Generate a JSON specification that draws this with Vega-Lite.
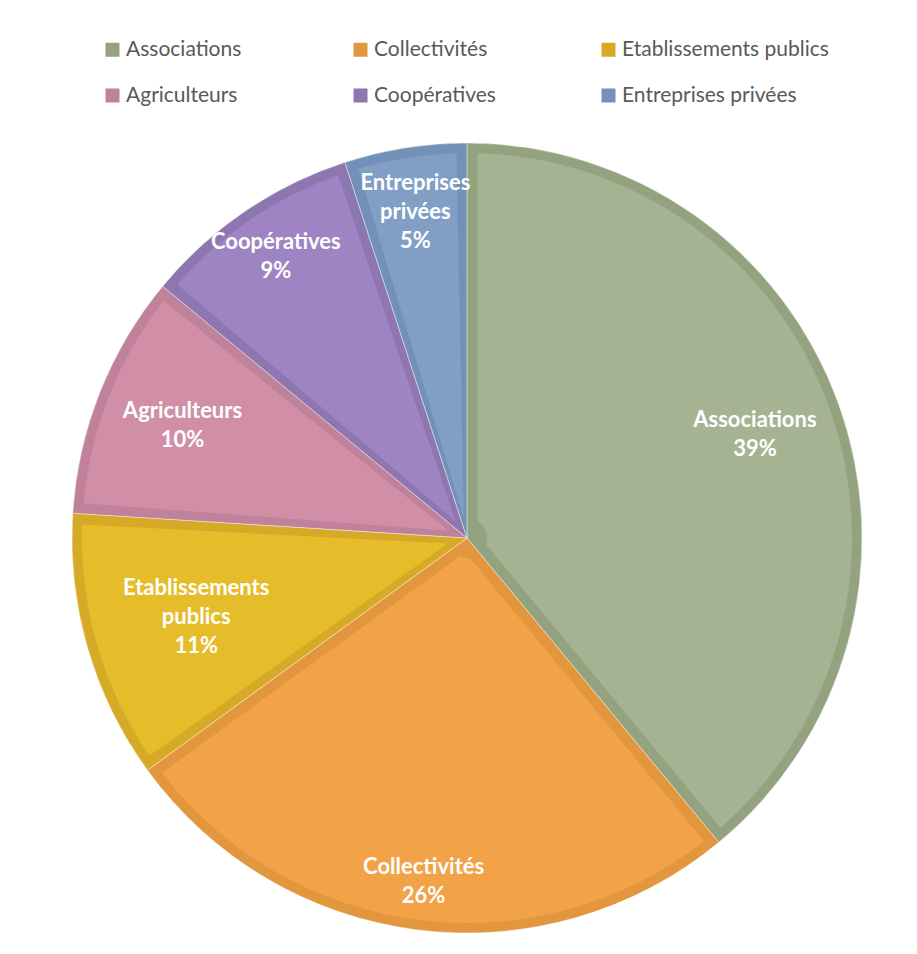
{
  "$schema": "https://vega.github.io/schema/vega-lite/v6.json",
  "width": 790,
  "height": 790,
  "autosize": {"type": "none"},
  "padding": {"left": 72, "top": 143, "right": 55, "bottom": 21},
  "background": "white",
  "config": {"view": {"stroke": null}},
  "data": {
    "values": [
      {"cat": "Associations", "value": 39, "ord": 1},
      {"cat": "Collectivités", "value": 26, "ord": 2},
      {"cat": "Etablissements publics", "value": 11, "ord": 3},
      {"cat": "Agriculteurs", "value": 10, "ord": 4},
      {"cat": "Coopératives", "value": 9, "ord": 5},
      {"cat": "Entreprises privées", "value": 5, "ord": 6}
    ]
  },
  "layer": [
    {
      "mark": {"type": "arc", "radius": 395, "stroke": "white", "strokeWidth": 1, "strokeOpacity": 0.4},
      "encoding": {
        "theta": {"field": "value", "type": "quantitative", "stack": true},
        "order": {"field": "ord", "type": "quantitative"},
        "color": {
          "field": "cat",
          "type": "nominal",
          "scale": {
            "domain": ["Associations", "Collectivités", "Etablissements publics", "Agriculteurs", "Coopératives", "Entreprises privées"],
            "range": ["#93A37F", "#E2963E", "#D6AA26", "#C0829A", "#8E77B1", "#7390B6"]
          },
          "legend": {
            "orient": "none",
            "legendX": 30,
            "legendY": -104,
            "direction": "horizontal",
            "columns": 3,
            "title": null,
            "symbolType": "square",
            "symbolSize": 196,
            "symbolStrokeWidth": 0,
            "symbolOpacity": 1,
            "labelFont": "Lato",
            "labelFontSize": 21,
            "labelColor": "#595959",
            "labelOffset": 3,
            "labelLimit": 400,
            "columnPadding": 17,
            "rowPadding": 24,
            "gridAlign": "all"
          }
        }
      }
    },
    {
      "mark": {"type": "arc", "radius": 385, "innerRadius": 20, "padAngle": 0.055},
      "encoding": {
        "theta": {"field": "value", "type": "quantitative", "stack": true},
        "order": {"field": "ord", "type": "quantitative"},
        "fill": {
          "field": "cat",
          "type": "nominal",
          "scale": {
            "domain": ["Associations", "Collectivités", "Etablissements publics", "Agriculteurs", "Coopératives", "Entreprises privées"],
            "range": ["#A5B393", "#F2A347", "#E5BC29", "#D08FA6", "#9E84C2", "#819FC5"]
          },
          "legend": null
        }
      }
    },
    {
      "transform": [
        {"stack": "value", "groupby": [], "sort": [{"field": "ord"}], "as": ["v0", "v1"]},
        {"calculate": "(datum.v0 + datum.v1) / 2", "as": "mid"},
        {"calculate": "replace(datum.cat, ' ', '\\n') + '\\n' + datum.value + '%'", "as": "label"},
        {"filter": "datum.cat == 'Associations' || datum.cat == 'Agriculteurs'"}
      ],
      "mark": {"type": "text", "radius": 306, "dy": -14.5, "font": "Lato", "fontWeight": "bold", "fontSize": 22, "fill": "white", "lineBreak": "\n", "lineHeight": 29, "align": "center", "baseline": "middle"},
      "encoding": {
        "theta": {"field": "mid", "type": "quantitative", "stack": null, "scale": {"domain": [0, 100]}},
        "text": {"field": "label"}
      }
    },
    {
      "transform": [
        {"stack": "value", "groupby": [], "sort": [{"field": "ord"}], "as": ["v0", "v1"]},
        {"calculate": "(datum.v0 + datum.v1) / 2", "as": "mid"},
        {"calculate": "replace(datum.cat, ' ', '\\n') + '\\n' + datum.value + '%'", "as": "label"},
        {"filter": "datum.cat == 'Collectivités'"}
      ],
      "mark": {"type": "text", "radius": 346, "dy": -14.5, "font": "Lato", "fontWeight": "bold", "fontSize": 22, "fill": "white", "lineBreak": "\n", "lineHeight": 29, "align": "center", "baseline": "middle"},
      "encoding": {
        "theta": {"field": "mid", "type": "quantitative", "stack": null, "scale": {"domain": [0, 100]}},
        "text": {"field": "label"}
      }
    },
    {
      "transform": [
        {"stack": "value", "groupby": [], "sort": [{"field": "ord"}], "as": ["v0", "v1"]},
        {"calculate": "(datum.v0 + datum.v1) / 2", "as": "mid"},
        {"calculate": "replace(datum.cat, ' ', '\\n') + '\\n' + datum.value + '%'", "as": "label"},
        {"filter": "datum.cat == 'Etablissements publics'"}
      ],
      "mark": {"type": "text", "radius": 282, "dy": -29, "font": "Lato", "fontWeight": "bold", "fontSize": 22, "fill": "white", "lineBreak": "\n", "lineHeight": 29, "align": "center", "baseline": "middle"},
      "encoding": {
        "theta": {"field": "mid", "type": "quantitative", "stack": null, "scale": {"domain": [0, 100]}},
        "text": {"field": "label"}
      }
    },
    {
      "transform": [
        {"stack": "value", "groupby": [], "sort": [{"field": "ord"}], "as": ["v0", "v1"]},
        {"calculate": "(datum.v0 + datum.v1) / 2", "as": "mid"},
        {"calculate": "replace(datum.cat, ' ', '\\n') + '\\n' + datum.value + '%'", "as": "label"},
        {"filter": "datum.cat == 'Coopératives'"}
      ],
      "mark": {"type": "text", "radius": 340, "dy": -14.5, "font": "Lato", "fontWeight": "bold", "fontSize": 22, "fill": "white", "lineBreak": "\n", "lineHeight": 29, "align": "center", "baseline": "middle"},
      "encoding": {
        "theta": {"field": "mid", "type": "quantitative", "stack": null, "scale": {"domain": [0, 100]}},
        "text": {"field": "label"}
      }
    },
    {
      "transform": [
        {"stack": "value", "groupby": [], "sort": [{"field": "ord"}], "as": ["v0", "v1"]},
        {"calculate": "(datum.v0 + datum.v1) / 2", "as": "mid"},
        {"calculate": "replace(datum.cat, ' ', '\\n') + '\\n' + datum.value + '%'", "as": "label"},
        {"filter": "datum.cat == 'Entreprises privées'"}
      ],
      "mark": {"type": "text", "radius": 330, "dy": -29, "font": "Lato", "fontWeight": "bold", "fontSize": 22, "fill": "white", "lineBreak": "\n", "lineHeight": 29, "align": "center", "baseline": "middle"},
      "encoding": {
        "theta": {"field": "mid", "type": "quantitative", "stack": null, "scale": {"domain": [0, 100]}},
        "text": {"field": "label"}
      }
    }
  ]
}
